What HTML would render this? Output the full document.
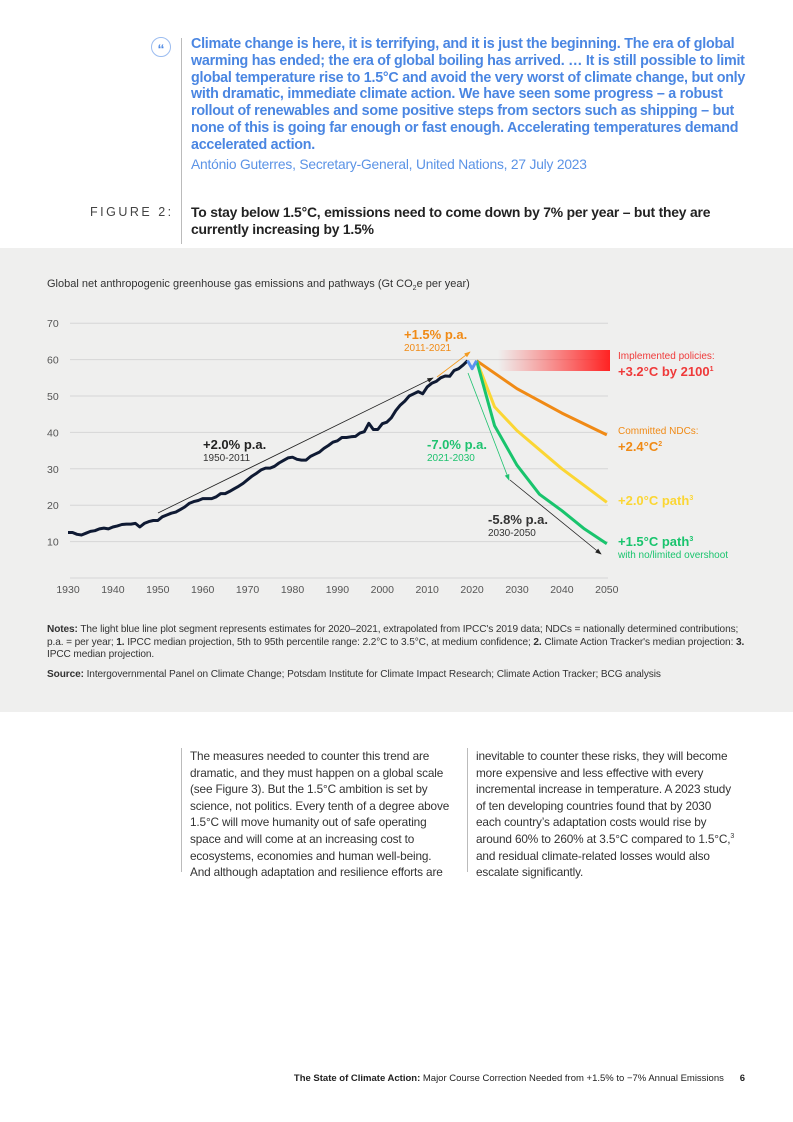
<!DOCTYPE html>
<html><head><meta charset="utf-8">
<style>
body{margin:0;width:793px;height:1122px;position:relative;background:#fff;font-family:"Liberation Sans",sans-serif;overflow:hidden}
.abs{position:absolute}
.quote{left:191px;top:36px;width:560px;font-size:14.3px;line-height:16.8px;font-weight:bold;color:#4a86e2;letter-spacing:-0.25px}
.attr{left:191px;top:157px;font-size:13.8px;color:#5b93e6;letter-spacing:-0.2px}
.figlab{left:90px;top:205px;font-size:12.5px;letter-spacing:2.5px;color:#444}
.figtitle{left:191px;top:204px;width:525px;font-size:13.9px;line-height:17px;font-weight:bold;color:#222;letter-spacing:-0.2px}
.col{top:748px;width:262px;font-size:11.8px;line-height:16.6px;color:#333;letter-spacing:-0.15px}
.col sup{line-height:0}
.notes{left:47px;top:624px;width:705px;font-size:10.1px;line-height:12.5px;color:#333;letter-spacing:-0.1px}
.foot{right:48px;top:1073px;font-size:9.5px;color:#222}
</style></head><body>
<div class="abs" style="left:0;top:248px;width:793px;height:464px;background:#efefee"></div>
<div class="abs" style="left:181px;top:38px;width:1px;height:206px;background:#bbb"></div>
<div class="abs" style="left:151px;top:37px;width:18px;height:18px;border:1px solid #9bbcf0;border-radius:50%;color:#4a86e2;font-size:14px;font-weight:bold;text-align:center;line-height:22px">“</div>
<div class="abs quote">Climate change is here, it is terrifying, and it is just the beginning. The era of global warming has ended; the era of global boiling has arrived. … It is still possible to limit global temperature rise to 1.5°C and avoid the very worst of climate change, but only with dramatic, immediate climate action. We have seen some progress – a robust rollout of renewables and some positive steps from sectors such as shipping – but none of this is going far enough or fast enough. Accelerating temperatures demand accelerated action.</div>
<div class="abs attr">António Guterres, Secretary-General, United Nations, 27 July 2023</div>
<div class="abs figlab">FIGURE 2:</div>
<div class="abs figtitle">To stay below 1.5°C, emissions need to come down by 7% per year – but they are currently increasing by 1.5%</div>
<div class="abs" style="left:47px;top:278px;font-size:11px;color:#333">Global net anthropogenic greenhouse gas emissions and pathways (Gt CO<sub style="font-size:7px">2</sub>e per year)</div>

<svg class="abs" style="left:0;top:0" width="793" height="1122">
<defs><linearGradient id="rg" x1="0" x2="1"><stop offset="0" stop-color="#ff3030" stop-opacity="0"/><stop offset="1" stop-color="#ff2222" stop-opacity="1"/></linearGradient>
<marker id="ab" markerWidth="8" markerHeight="8" refX="7" refY="4" orient="auto"><path d="M0,1 L8,4 L0,7z" fill="#222"/></marker>
<marker id="ao" markerWidth="8" markerHeight="8" refX="7" refY="4" orient="auto"><path d="M0,1 L8,4 L0,7z" fill="#f39a1f"/></marker>
<marker id="ag" markerWidth="8" markerHeight="8" refX="7" refY="4" orient="auto"><path d="M0,1 L8,4 L0,7z" fill="#1ec26f"/></marker>
</defs>
<g id="grid"></g><g id="marks"></g>
</svg>

<div class="abs notes"><b>Notes:</b> The light blue line plot segment represents estimates for 2020–2021, extrapolated from IPCC's 2019 data; NDCs = nationally determined contributions; p.a. = per year; <b>1.</b> IPCC median projection, 5th to 95th percentile range: 2.2°C to 3.5°C, at medium confidence; <b>2.</b> Climate Action Tracker's median projection: <b>3.</b> IPCC median projection.</div>
<div class="abs notes" style="top:669px"><b>Source:</b> Intergovernmental Panel on Climate Change; Potsdam Institute for Climate Impact Research; Climate Action Tracker; BCG analysis</div>

<div class="abs" style="left:181px;top:748px;width:1px;height:124px;background:#bbb"></div>
<div class="abs" style="left:467px;top:748px;width:1px;height:124px;background:#bbb"></div>
<div class="abs col" style="left:190px">The measures needed to counter this trend are dramatic, and they must happen on a global scale (see Figure 3). But the 1.5°C ambition is set by science, not politics. Every tenth of a degree above 1.5°C will move humanity out of safe operating space and will come at an increasing cost to ecosystems, economies and human well-being. And although adaptation and resilience efforts are</div>
<div class="abs col" style="left:476px">inevitable to counter these risks, they will become more expensive and less effective with every incremental increase in temperature. A 2023 study of ten developing countries found that by 2030 each country’s adaptation costs would rise by around 60% to 260% at 3.5°C compared to 1.5°C,<sup style="font-size:7px">3</sup> and residual climate-related losses would also escalate significantly.</div>
<div class="abs foot"><b>The State of Climate Action:</b> Major Course Correction Needed from +1.5% to −7% Annual Emissions &nbsp;&nbsp;&nbsp;&nbsp;&nbsp;<b>6</b></div>

<script>
const yTicks=[10,20,30,40,50,60,70];
const xTicks=[1930,1940,1950,1960,1970,1980,1990,2000,2010,2020,2030,2040,2050];
const histYears=[1930,1931,1932,1933,1934,1935,1936,1937,1938,1939,1940,1941,1942,1943,1944,1945,1946,1947,1948,1949,1950,1951,1952,1953,1954,1955,1956,1957,1958,1959,1960,1961,1962,1963,1964,1965,1966,1967,1968,1969,1970,1971,1972,1973,1974,1975,1976,1977,1978,1979,1980,1981,1982,1983,1984,1985,1986,1987,1988,1989,1990,1991,1992,1993,1994,1995,1996,1997,1998,1999,2000,2001,2002,2003,2004,2005,2006,2007,2008,2009,2010,2011,2012,2013,2014,2015,2016,2017,2018,2019];
const histValues=[12.5,12.5,12,11.8,12.3,12.8,13,13.5,13.7,13.5,14,14.3,14.7,14.8,14.8,15,14,15,15.5,15.8,15.8,16.8,17.3,17.8,18.1,18.8,19.5,20.5,21,21.3,21.8,21.8,21.8,22.3,23.2,23.2,23.8,24.5,25.2,26,27,28,28.8,29.7,30.2,30.2,30.7,31.6,32.3,33,33.2,32.6,32.4,32.4,33.4,34,34.6,35.6,36.4,37.3,37.7,38.6,38.6,38.8,38.9,39.8,40.2,42.5,40.8,40.8,42.4,42.8,44,46,47.5,48.6,50,50.6,51.2,50.6,52.5,53.5,54,55,55.5,55.4,57,57.5,58.5,59.7];
const estYears=[2019,2020,2021];
const estValues=[59.7,57.5,59.7];
const ndcYears=[2021,2030,2040,2050];
const ndcValues=[59.7,52,45.3,39.3];
const p20Years=[2021,2025,2030,2040,2050];
const p20Values=[59.7,47,40.5,30,20.8];
const p15Years=[2021,2025,2030,2035,2040,2045,2050];
const p15Values=[59.7,41.8,31,23,18.5,13.5,9.4];

const X=y=>68+(y-1930)*4.49;
const Y=v=>578-3.64*v;
const NS='http://www.w3.org/2000/svg';
const grid=document.getElementById('grid'),marks=document.getElementById('marks');
function mk(tag,attrs,parent){const e=document.createElementNS(NS,tag);for(const k in attrs)e.setAttribute(k,attrs[k]);parent.appendChild(e);return e;}
yTicks.concat([0]).forEach(v=>{
  const l=mk('line',{x1:70,x2:608,y1:Y(v),y2:Y(v),stroke:'#d6d6d6','stroke-width':1},grid);
  
  
});
yTicks.forEach(v=>{
  const t=mk('text',{x:47,y:Y(v)+4,'font-size':10.5,fill:'#555','font-family':'Liberation Sans'},grid);
  t.textContent=v;
  
  
});
xTicks.forEach(v=>{
  const t=mk('text',{x:X(v),y:593,'font-size':10.5,fill:'#555','text-anchor':'middle','font-family':'Liberation Sans'},grid);
  t.textContent=v;
  
  
});
const band=mk('rect',{x:498,y:350,width:112,height:21,fill:'url(#rg)'},marks);


function line(xs,vs,color,w,name){
  const d=xs.map((x,i)=>(i?'L':'M')+X(x).toFixed(1)+','+Y(vs[i]).toFixed(1)).join(' ');
  const p=mk('path',{d:d,fill:'none',stroke:color,'stroke-width':w,'stroke-linejoin':'round'},marks);
  
  
}
line(ndcYears,ndcValues,'#f08a15',3,'ndc-line');
line(p20Years,p20Values,'#fbd634',3,'path-2-0-line');
line(p15Years,p15Values,'#19c46d',3,'path-1-5-line');
line(histYears,histValues,'#0f1a33',3,'historical-line');
line(estYears,estValues,'#5a92ee',3,'estimate-line');
function arrow(x1,y1,x2,y2,c,m,name){
  const a=mk('line',{x1:x1,y1:y1,x2:x2,y2:y2,stroke:c,'stroke-width':0.8,'marker-end':'url(#'+m+')'},marks);
  
  
}
arrow(158,513,433,378,'#222','ab','trend-arrow-1950');
arrow(437,377,470,352,'#f39a1f','ao','trend-arrow-2011');
arrow(468,373,509,480,'#1ec26f','ag','trend-arrow-2021');
arrow(510,480,601,554,'#222','ab','trend-arrow-2030');
function txt(x,y,s,sz,c,bold,name){
  const t=mk('text',{x:x,y:y,'font-size':sz,fill:c,'font-family':'Liberation Sans','font-weight':bold?'bold':'normal'},marks);
  t.innerHTML=s;
  
  
}
txt(203,449,'+2.0% p.a.',13,'#222',1,'annotation-2-0');
txt(203,461,'1950-2011',10,'#333',0,'annotation-2-0-years');
txt(404,339,'+1.5% p.a.',13,'#f08a15',1,'annotation-1-5');
txt(404,351,'2011-2021',10,'#f08a15',0,'annotation-1-5-years');
txt(427,449,'-7.0% p.a.',13,'#1ec26f',1,'annotation-7-0');
txt(427,461,'2021-2030',10,'#1ec26f',0,'annotation-7-0-years');
txt(488,524,'-5.8% p.a.',13,'#333',1,'annotation-5-8');
txt(488,536,'2030-2050',10,'#333',0,'annotation-5-8-years');
txt(618,359,'Implemented policies:',10,'#ef3a3a',0,'label-implemented');
txt(618,376,'+3.2°C by 2100<tspan font-size="7" dy="-5">1</tspan>',13,'#ef3a3a',1,'label-implemented-value');
txt(618,434,'Committed NDCs:',10,'#f08a15',0,'label-ndc');
txt(618,451,'+2.4°C<tspan font-size="7" dy="-5">2</tspan>',13,'#f08a15',1,'label-ndc-value');
txt(618,505,'+2.0°C path<tspan font-size="7" dy="-5">3</tspan>',13,'#fbd634',1,'label-2-0');
txt(618,546,'+1.5°C path<tspan font-size="7" dy="-5">3</tspan>',13,'#19c46d',1,'label-1-5');
txt(618,558,'with no/limited overshoot',10,'#19c46d',0,'label-1-5-sub');
</script>
</body></html>
